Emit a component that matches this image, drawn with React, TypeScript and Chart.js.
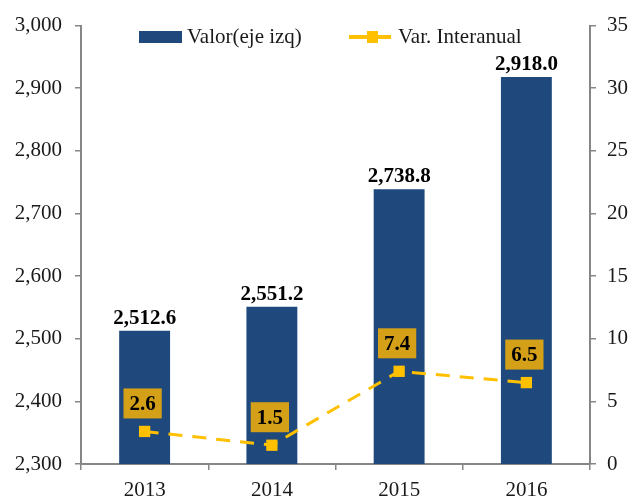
import { useEffect, useRef } from 'react';
import { Chart, registerables } from 'chart.js';

Chart.register(...registerables);

const categories = ['2013', '2014', '2015', '2016'];
const valores = [2512.6, 2551.2, 2738.8, 2918.0];
const variacion = [2.6, 1.5, 7.4, 6.5];
const leftAxis = { min: 2300, max: 3000, step: 100 };
const rightAxis = { min: 0, max: 35, step: 5 };
const seriesNames = ['Valor(eje izq)', 'Var. Interanual'];

const FONT = '"Liberation Serif", "Times New Roman", serif';
const BAR_COLOR = '#1F497D';
const LINE_COLOR = '#FFC000';
const BOX_COLOR = '#D4A017';
const AXIS_COLOR = '#868686';

const fmt1 = (v: number) =>
  v.toLocaleString('en-US', { minimumFractionDigits: 1, maximumFractionDigits: 1 });

const labelsPlugin = {
  id: 'customLabels',
  afterDatasetsDraw(chart: any) {
    const ctx = chart.ctx;
    ctx.save();
    const barMeta = chart.getDatasetMeta(0);
    ctx.font = `bold 21px ${FONT}`;
    ctx.fillStyle = '#000';
    ctx.textAlign = 'center';
    ctx.textBaseline = 'alphabetic';
    barMeta.data.forEach((el: any, i: number) => {
      ctx.fillText(fmt1(valores[i]), el.x, el.y - 7);
    });
    const lineMeta = chart.getDatasetMeta(1);
    lineMeta.data.forEach((el: any, i: number) => {
      const txt = fmt1(variacion[i]);
      const w = ctx.measureText(txt).width + 12;
      const h = 30;
      const cx = el.x - 2;
      const bottom = el.y - 13;
      ctx.fillStyle = BOX_COLOR;
      ctx.fillRect(cx - w / 2, bottom - h, w, h);
      ctx.fillStyle = '#000';
      ctx.textBaseline = 'middle';
      ctx.fillText(txt, cx, bottom - h / 2 + 1);
    });
    ctx.restore();
  },
  afterDraw(chart: any) {
    const ctx = chart.ctx;
    ctx.save();
    const y = 37;
    ctx.fillStyle = BAR_COLOR;
    ctx.fillRect(139, y - 6, 43, 12);
    ctx.font = `21px ${FONT}`;
    ctx.fillStyle = '#1a1a1a';
    ctx.textAlign = 'left';
    ctx.textBaseline = 'middle';
    ctx.fillText(seriesNames[0], 187, y);
    ctx.strokeStyle = LINE_COLOR;
    ctx.lineWidth = 4;
    ctx.beginPath();
    ctx.moveTo(349, y);
    ctx.lineTo(391, y);
    ctx.stroke();
    ctx.fillStyle = LINE_COLOR;
    ctx.fillRect(367, y - 6, 11, 12);
    ctx.fillStyle = '#1a1a1a';
    ctx.fillText(seriesNames[1], 398, y);
    ctx.restore();
  },
};

export default function App() {
  const ref = useRef<HTMLCanvasElement | null>(null);
  useEffect(() => {
    if (!ref.current) return;
    const chart = new Chart(ref.current, {
      type: 'bar',
      data: {
        labels: categories,
        datasets: [
          {
            type: 'bar',
            label: seriesNames[0],
            data: valores,
            backgroundColor: BAR_COLOR,
            barPercentage: 0.4,
            categoryPercentage: 1,
            yAxisID: 'y',
            order: 2,
          },
          {
            type: 'line',
            label: seriesNames[1],
            data: variacion,
            borderColor: LINE_COLOR,
            backgroundColor: LINE_COLOR,
            borderWidth: 3,
            borderDash: [14, 10],
            pointStyle: 'rect',
            pointRadius: 8,
            pointBorderWidth: 0,
            pointBackgroundColor: LINE_COLOR,
            yAxisID: 'y1',
            order: 1,
            clip: false,
          } as any,
        ],
      },
      options: {
        responsive: false,
        animation: false,
        layout: { padding: { top: 23, left: 0, right: 0, bottom: 0 } },
        plugins: {
          legend: { display: false },
          tooltip: { enabled: false },
        },
        scales: {
          x: {
            offset: true,
            grid: {
              display: true,
              offset: true,
              drawOnChartArea: false,
              drawTicks: true,
              tickLength: 6,
              color: AXIS_COLOR,
              lineWidth: 1.5,
            },
            border: { display: true, color: AXIS_COLOR, width: 2 },
            ticks: {
              font: { family: FONT, size: 21 },
              color: '#1a1a1a',
              padding: 8,
            },
            afterFit: (s: any) => {
              s.height = 37;
            },
          },
          y: {
            position: 'left',
            min: leftAxis.min,
            max: leftAxis.max,
            grid: {
              display: true,
              drawOnChartArea: false,
              drawTicks: true,
              tickLength: 6,
              color: AXIS_COLOR,
              lineWidth: 1.5,
            },
            border: { display: true, color: AXIS_COLOR, width: 2 },
            ticks: {
              stepSize: leftAxis.step,
              font: { family: FONT, size: 21 },
              color: '#1a1a1a',
              padding: 13,
              callback: (v: any) => Number(v).toLocaleString('en-US'),
            },
            afterFit: (s: any) => {
              s.width = 81;
            },
          },
          y1: {
            position: 'right',
            min: rightAxis.min,
            max: rightAxis.max,
            grid: {
              display: true,
              drawOnChartArea: false,
              drawTicks: true,
              tickLength: 6,
              color: AXIS_COLOR,
              lineWidth: 1.5,
            },
            border: { display: true, color: AXIS_COLOR, width: 2 },
            ticks: {
              stepSize: rightAxis.step,
              font: { family: FONT, size: 21 },
              color: '#1a1a1a',
              padding: 11,
            },
            afterFit: (s: any) => {
              s.width = 45;
            },
          },
        },
      },
      plugins: [labelsPlugin],
    });
    return () => chart.destroy();
  }, []);
  return (
    <div style={{ position: 'fixed', left: 0, top: 0, width: 635, height: 501, background: '#fff' }}>
      <canvas ref={ref} width={635} height={501} />
    </div>
  );
}
